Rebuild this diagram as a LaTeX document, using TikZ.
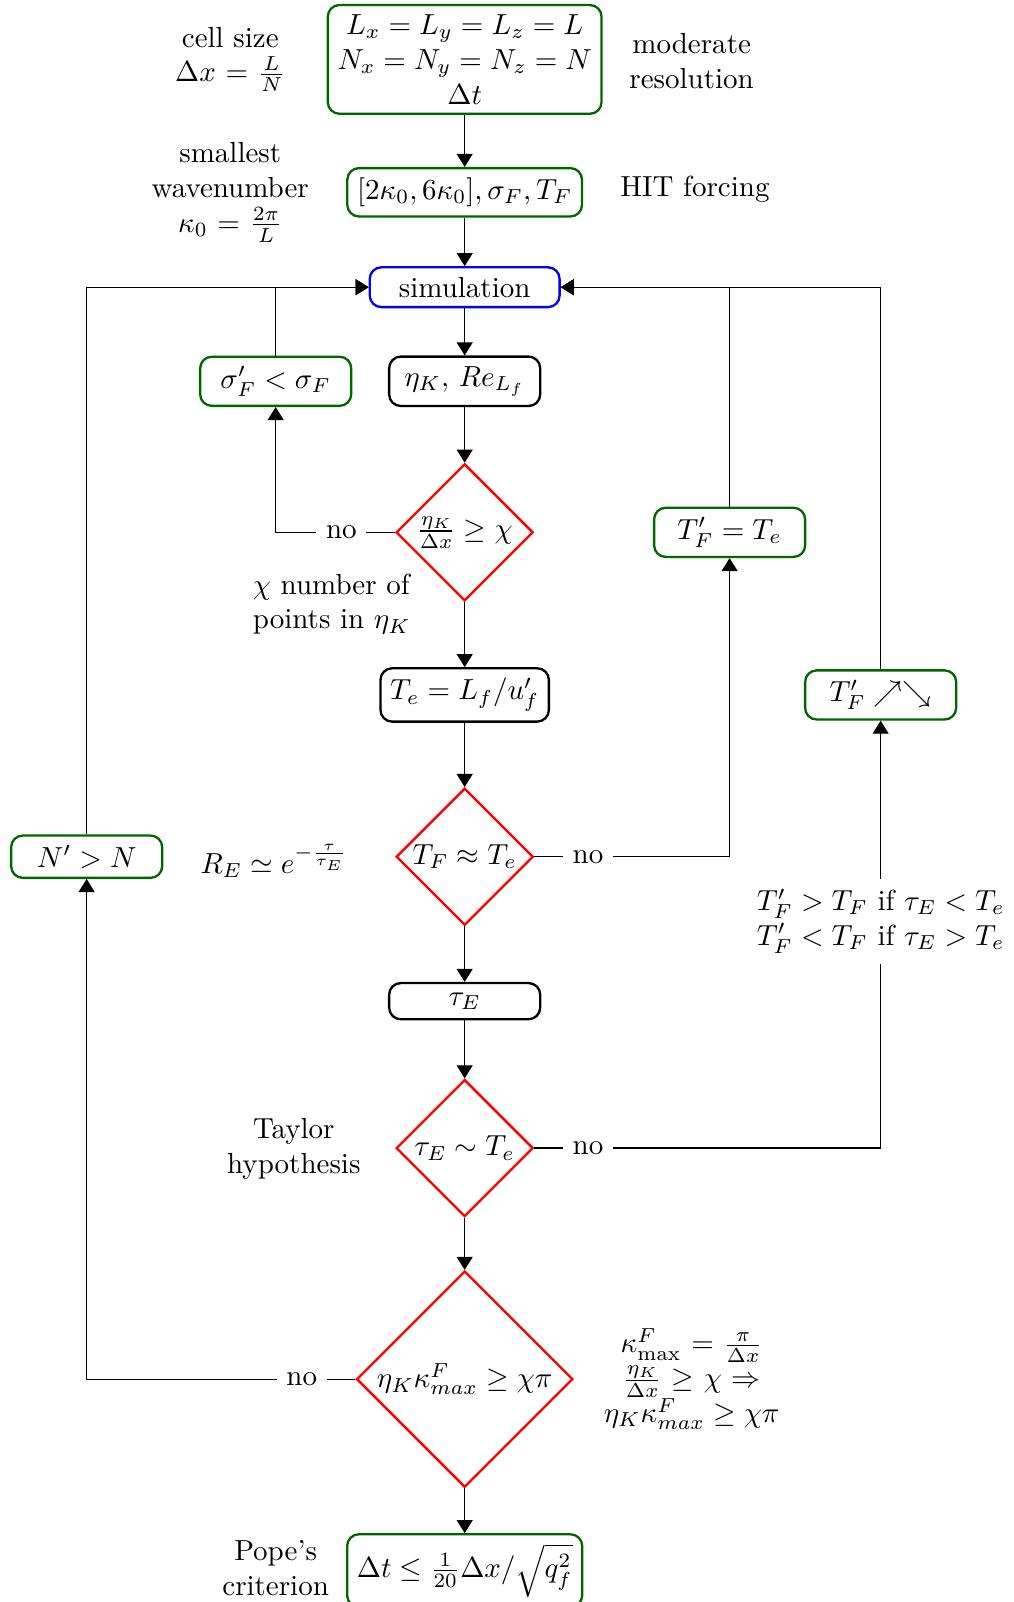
\documentclass[tikz,border=0pt]{standalone}
\usepackage{amsmath,amssymb}
\usetikzlibrary{shapes.geometric,arrows.meta}

\begin{document}
\begin{tikzpicture}[>={Triangle[length=4.5pt,width=5.5pt]},
    greenbox/.style={draw=green!40!black, thick, rounded corners=4pt, align=center},
    blackbox/.style={draw=black, thick, rounded corners=4pt, minimum width=1.83cm},
    decision/.style={draw=red, thick, diamond, aspect=1, inner sep=0pt, minimum size=1.66cm},
    nolabel/.style={fill=white},
    remark/.style={align=center}]
    \useasboundingbox (0,0) rectangle (12.28,-19.41);

    % Setup
    \node[greenbox] (grid) at (5.63,-0.72) {$L_x = L_y = L_z = L$\\ $N_x = N_y = N_z = N$\\ $\Delta t$};
    \node[greenbox] (forcing) at (5.63,-2.33) {$[2\kappa_0, 6\kappa_0], \sigma_F, T_F$};
    \node[draw=blue, thick, rounded corners=4pt, minimum width=2.3cm] (sim) at (5.63,-3.48) {simulation};

    % Main column
    \node[blackbox] (eta) at (5.63,-4.62) {$\eta_K,\, Re_{L_f}$};
    \node[decision] (d1) at (5.63,-6.45) {$\frac{\eta_K}{\Delta x} \geq \chi$};
    \node[blackbox] (te) at (5.63,-8.42) {$T_e = L_f/u'_f$};
    \node[decision] (d2) at (5.63,-10.38) {$T_F \approx T_e$};
    \node[blackbox] (tau) at (5.63,-12.13) {$\tau_E$};
    \node[decision] (d3) at (5.63,-13.91) {$\tau_E \sim T_e$};
    \node[decision, minimum size=2.62cm] (d4) at (5.63,-16.71) {$\eta_K \kappa^F_{max} \geq \chi\pi$};
    \node[greenbox] (pope) at (5.63,-19.03) {$\Delta t \leq \frac{1}{20}\Delta x/\sqrt{q_f^2}$};

    % Corrections
    \node[greenbox, minimum width=1.83cm] (sigma) at (3.34,-4.62) {$\sigma'_F < \sigma_F$};
    \node[greenbox, minimum width=1.83cm] (tfe) at (8.84,-6.45) {$T'_F = T_e$};
    \node[greenbox, minimum width=1.83cm] (tfup) at (10.67,-8.42) {$T'_F \nearrow\searrow$};
    \node[greenbox, minimum width=1.83cm] (nbox) at (1.05,-10.38) {$N' > N$};

    % Remarks
    \node[remark] (cell) at (2.79,-0.72) {cell size\\ $\Delta x$ = $\frac{L}{N}$};
    \node[remark] (res) at (8.38,-0.74) {moderate\\ resolution};
    \node[remark] (kzero) at (2.79,-2.33) {smallest\\ wavenumber\\ $\kappa_0$ = $\frac{2\pi}{L}$};
    \node[remark] (hit) at (8.42,-2.29) {HIT forcing};
    \node[align=left] (chi) at (4.02,-7.32) {$\chi$ number of\\ points in $\eta_K$};
    \node[remark] (re) at (3.32,-10.43) {$R_E \simeq e^{-\frac{\tau}{\tau_E}}$};
    \node[remark] (cond) at (10.67,-11.16) {$T'_F > T_F$ if $\tau_E < T_e$\\ $T'_F < T_F$ if $\tau_E > T_e$};
    \node[remark] (taylor) at (3.56,-13.92) {Taylor\\ hypothesis};
    \node[remark] (kmax) at (8.38,-16.71) {$\kappa^F_{\max}$ = $\frac{\pi}{\Delta x}$\\ $\frac{\eta_K}{\Delta x}$ $\geq$ $\chi$ $\Rightarrow$\\ $\eta_K\kappa^F_{max} \geq \chi\pi$};
    \node[remark] (crit) at (3.34,-19.00) {Pope's\\ criterion};

    % Flow
    \draw[->] (grid) -- (forcing);
    \draw[->] (forcing) -- (sim);
    \draw[->] (sim) -- (eta);
    \draw[->] (eta) -- (d1);
    \draw[->] (d1) -- (te);
    \draw[->] (te) -- (d2);
    \draw[->] (d2) -- (tau);
    \draw[->] (tau) -- (d3);
    \draw[->] (d3) -- (d4);
    \draw[->] (d4) -- (pope);

    % Loops back
    \draw[->] (d1.west) -- ++(-0.65,0) node[nolabel] {no} -| (sigma.south);
    \draw[->] (sigma.north) |- (sim.west);
    \draw[->] (d2.east) -- ++(0.65,0) node[nolabel] {no} -| (tfe.south);
    \draw[->] (tfe.north) |- (sim.east);
    \draw (d3.east) -- ++(0.65,0) node[nolabel] {no} -| (cond.south);
    \draw[->] (cond.north) -- (tfup.south);
    \draw[->] (tfup.north) |- (sim.east);
    \draw[->] (d4.west) -- ++(-0.65,0) node[nolabel] {no} -| (nbox.south);
    \draw[->] (nbox.north) |- (sim.west);
\end{tikzpicture}
\end{document}
